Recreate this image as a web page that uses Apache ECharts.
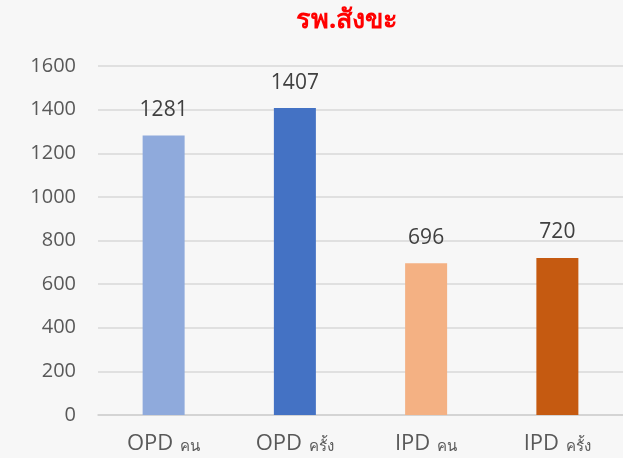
<!DOCTYPE html>
<html>
<head>
<meta charset="utf-8">
<script src="https://cdn.jsdelivr.net/npm/echarts@6/dist/echarts.min.js"></script>
<style>
  html, body { margin: 0; padding: 0; background: #f7f7f7; }
  #main { width: 623px; height: 458px; }
</style>
</head>
<body>
<div id="main"></div>
<script>
const categories = [['OPD', 'คน'], ['OPD', 'ครั้ง'], ['IPD', 'คน'], ['IPD', 'ครั้ง']];
const values = [1281, 1407, 696, 720];
const barColors = ['#8FAADC', '#4472C4', '#F4B183', '#C55A11'];

const chart = echarts.init(document.getElementById('main'));

const option = {
  backgroundColor: '#f7f7f7',
  title: {
    text: 'รพ.สังขะ',
    left: 342,
    textAlign: 'center',
    top: 2,
    textStyle: {
      color: '#ff0000',
      fontSize: 27,
      fontWeight: 'bold',
      fontFamily: 'Open Sans, Noto Sans, sans-serif'
    }
  },
  grid: {
    left: 98,
    right: 0,
    top: 66,
    bottom: 43
  },
  xAxis: {
    type: 'category',
    data: categories.map(c => c.join(' ')),
    axisTick: { show: false },
    axisLine: { lineStyle: { color: '#d0d0d0', width: 1.5 } },
    axisLabel: {
      margin: 18,
      formatter: function (v, i) {
        return '{a|' + categories[i][0] + '}{b|' + categories[i][1] + '}';
      },
      rich: {
        a: { fontSize: 22, color: '#595959', fontFamily: 'Open Sans, sans-serif' },
        b: { fontSize: 15, color: '#595959', fontFamily: 'Open Sans, Noto Sans, sans-serif', padding: [5, 0, 0, 7] }
      }
    }
  },
  yAxis: {
    type: 'value',
    min: 0,
    max: 1600,
    interval: 200,
    axisLine: { show: false },
    axisTick: { show: false },
    axisLabel: {
      margin: 22,
      fontSize: 20,
      color: '#595959',
      fontFamily: 'Open Sans, sans-serif',
      formatter: function (v) { return String(v); }
    },
    splitLine: { lineStyle: { color: '#d9d9d9', width: 1.5 } }
  },
  series: [{
    type: 'bar',
    barWidth: 42,
    data: values.map((v, i) => ({ value: v, itemStyle: { color: barColors[i] } })),
    label: {
      show: true,
      position: 'top',
      distance: 15,
      fontSize: 21,
      color: '#404040',
      fontFamily: 'Open Sans, sans-serif'
    }
  }]
};

chart.setOption(option);
</script>
</body>
</html>
